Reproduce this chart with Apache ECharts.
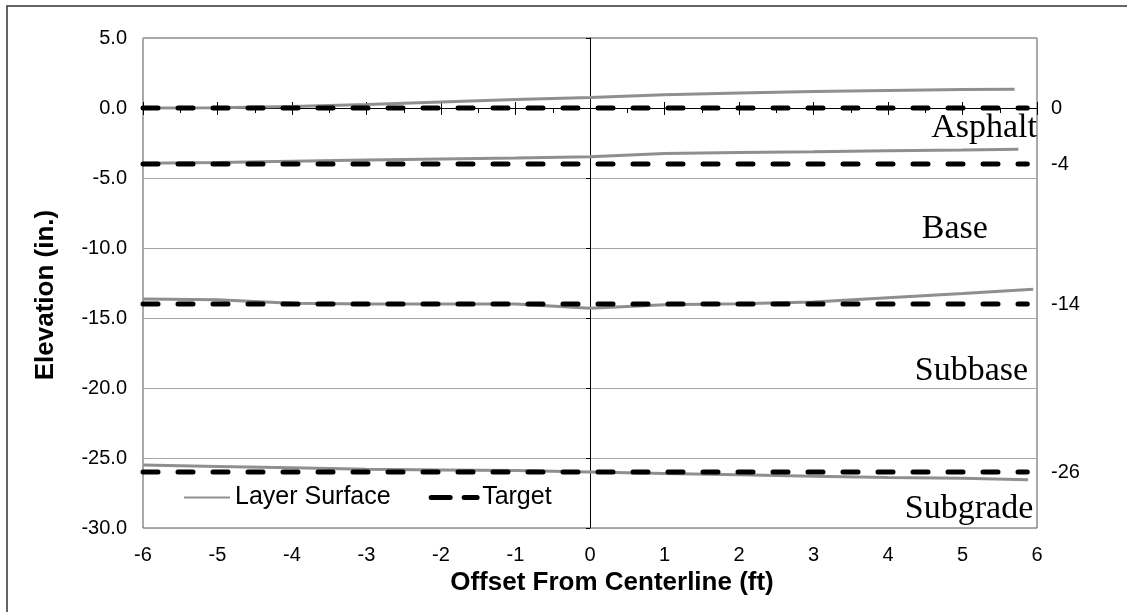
<!DOCTYPE html>
<html><head><meta charset="utf-8">
<script src="https://cdn.jsdelivr.net/npm/echarts@6/dist/echarts.min.js"></script>
<style>html,body{margin:0;padding:0;background:#fff}#c{width:1127px;height:612px}</style>
</head><body><div id="c"></div>
<script>
// ---- data ----
const asphaltSurfX = [-6, -5, -4, -3, -2, -1, 0, 1, 2, 3, 4, 5, 5.7];
const asphaltSurfY = [0.0, 0.02, 0.1, 0.25, 0.42, 0.6, 0.75, 0.95, 1.08, 1.18, 1.25, 1.32, 1.34];
const baseSurfX = [-6, -5, -4, -3, -2, -1, 0, 1, 2, 3, 4, 5, 5.75];
const baseSurfY = [-3.95, -3.9, -3.8, -3.72, -3.65, -3.57, -3.48, -3.25, -3.18, -3.12, -3.05, -3.0, -2.95];
const subbaseSurfX = [-6, -5, -4, -3, -2, -1, 0, 1, 2, 3, 4, 5, 5.95];
const subbaseSurfY = [-13.65, -13.7, -13.95, -14.0, -14.0, -14.0, -14.3, -14.05, -13.98, -13.85, -13.55, -13.25, -12.95];
const subgradeSurfX = [-6, -5, -4, -3, -2, -1, 0, 1, 2, 3, 4, 5, 5.88];
const subgradeSurfY = [-25.5, -25.6, -25.7, -25.8, -25.85, -25.9, -26.0, -26.1, -26.2, -26.3, -26.4, -26.45, -26.55];
const targetX = [-6, 5.87];
const targetLevels = [0, -4, -14, -26];
const rightAxisTicks = [0, -4, -14, -26];
const layerNames = ['Asphalt', 'Base', 'Subbase', 'Subgrade'];
const layerLabelX = [6.0, 5.34, 5.88, 5.95];
const layerLabelY = [-1.45, -8.62, -18.8, -28.62];

const SANS = 'Liberation Sans, Arial, sans-serif';
const pairs = (xs, ys) => xs.map((x, i) => [x, ys[i]]);

const surfaces = [[asphaltSurfX, asphaltSurfY], [baseSurfX, baseSurfY], [subbaseSurfX, subbaseSurfY], [subgradeSurfX, subgradeSurfY]];
const series = [];
surfaces.forEach(([xs, ys]) => series.push({
  name: 'Layer Surface', type: 'line', symbol: 'none', silent: true, z: 3,
  lineStyle: { color: '#8f8f8f', width: 3 },
  itemStyle: { color: '#8f8f8f' },
  data: pairs(xs, ys)
}));
targetLevels.forEach(lv => series.push({
  name: 'Target', type: 'line', symbol: 'none', silent: true, z: 4,
  lineStyle: { color: '#000', width: 5, type: [15, 20], cap: 'round' },
  itemStyle: { color: '#000' },
  data: targetX.map(x => [x, lv])
}));
series.push({
  name: 'layerLabels', type: 'scatter', symbolSize: 0, silent: true, z: 5, clip: false,
  itemStyle: { color: '#000' },
  label: { show: true, position: 'left', distance: 0, formatter: p => p.name,
    fontFamily: 'Liberation Serif, Times New Roman, serif', fontSize: 34, fontWeight: 'normal', color: '#000', opacity: 1 },
  data: layerNames.map((n, i) => ({ name: n, value: [layerLabelX[i], layerLabelY[i]] }))
});

const chart = echarts.init(document.getElementById('c'));
chart.setOption({
  animation: false,
  backgroundColor: '#fff',
  grid: { left: 143, right: 90, top: 38, bottom: 84, show: true, borderColor: '#555', borderWidth: 1, backgroundColor: 'transparent' },
  graphic: [{ type: 'rect', silent: true, z: -10, shape: { x: 7, y: 6, width: 1200, height: 700 },
    style: { fill: 'none', stroke: '#333', lineWidth: 1.5 } }],
  legend: {
    data: ['Layer Surface', { name: 'Target', lineStyle: { type: [19, 14], cap: 'round', width: 5, color: '#000' } }],
    left: 183, top: 485, padding: 0,
    itemWidth: 46, itemHeight: 14, itemGap: 38,
    itemStyle: { color: 'rgba(0,0,0,0)', borderWidth: 0 },
    textStyle: { fontFamily: SANS, fontSize: 25, color: '#000' }
  },
  xAxis: [
    { type: 'value', min: -6, max: 6, interval: 1, position: 'bottom',
      name: 'Offset From Centerline (ft)', nameLocation: 'middle', nameGap: 38,
      nameTextStyle: { fontFamily: SANS, fontSize: 26, fontWeight: 'bold', color: '#000', padding: [0, 0, 0, 44] },
      axisLine: { show: false, onZero: false }, axisTick: { show: false }, splitLine: { show: false },
      axisLabel: { fontFamily: SANS, fontSize: 20, color: '#000', margin: 17 } },
    { type: 'value', min: -6, max: 6, interval: 1, position: 'bottom',
      axisLine: { show: true, onZero: true, onZeroAxisIndex: 0, lineStyle: { color: '#000', width: 1 } },
      axisTick: { show: true, inside: false, length: 7, lineStyle: { color: '#000' } },
      minorTick: { show: true, splitNumber: 2, length: 5, lineStyle: { color: '#000' } },
      axisLabel: { show: false }, splitLine: { show: false } },
    { type: 'value', min: -6, max: 6, interval: 1, position: 'bottom',
      axisLine: { show: true, onZero: true, onZeroAxisIndex: 0, lineStyle: { color: '#000', width: 1 } },
      axisTick: { show: true, inside: true, length: 6, lineStyle: { color: '#000' } },
      axisLabel: { show: false }, splitLine: { show: false } }
  ],
  yAxis: [
    { type: 'value', min: -30, max: 5, interval: 5, position: 'left',
      name: 'Elevation (in.)', nameLocation: 'middle', nameGap: 84,
      nameTextStyle: { fontFamily: SANS, fontSize: 26, fontWeight: 'bold', color: '#000', padding: [0, 24, 0, 0] },
      axisLine: { show: false, onZero: false }, axisTick: { show: false },
      splitLine: { show: true, lineStyle: { color: '#a6a6a6', width: 1 } },
      axisLabel: { fontFamily: SANS, fontSize: 20, color: '#000', margin: 16, formatter: v => v.toFixed(1) } },
    { type: 'value', min: -30, max: 5, interval: 1, position: 'right',
      axisLine: { show: false, onZero: false }, axisTick: { show: false }, splitLine: { show: false },
      axisLabel: { fontFamily: SANS, fontSize: 20, color: '#000', margin: 14,
        formatter: v => rightAxisTicks.includes(v) ? String(v) : '' } },
    { type: 'value', min: -30, max: 5, interval: 5, position: 'left',
      axisLine: { show: true, onZero: true, onZeroAxisIndex: 0, lineStyle: { color: '#000', width: 1 } },
      axisTick: { show: true, length: 4, lineStyle: { color: '#000' } },
      axisLabel: { show: false }, splitLine: { show: false } }
  ],
  series: series
});
</script></body></html>
